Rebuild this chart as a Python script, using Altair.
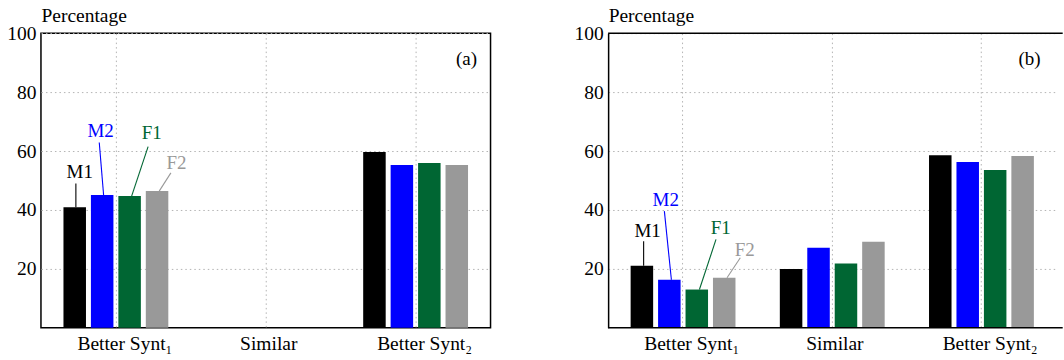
import altair as alt
import pandas as pd

FONT = "Liberation Serif"

categories = ["Better Synt\u2081", "Similar", "Better Synt\u2082"]
speakers = ["M1", "M2", "F1", "F2"]

# Panel (a) values, one list per speaker (Better Synt1, Similar, Better Synt2)
a_m1 = [40.9, 0.0, 59.7]
a_m2 = [45.1, 0.0, 55.3]
a_f1 = [44.7, 0.0, 55.9]
a_f2 = [46.4, 0.0, 55.3]

# Panel (b) values
b_m1 = [21.1, 20.0, 58.6]
b_m2 = [16.3, 27.2, 56.3]
b_f1 = [13.0, 21.8, 53.6]
b_f2 = [17.0, 29.2, 58.3]

colors_a = ["#000000", "#0000ff", "#006633", "#999999"]
colors_b = ["#1f0000", "#0000ff", "#006633", "#999999"]

# Speaker-label annotations (x in category units 0..3, y in percent)
a_text_x = [0.259, 0.398, 0.739, 0.905]
a_text_y = [50.7, 64.6, 64.0, 53.8]
a_lead_top_x = [0.233, 0.389, 0.715, 0.867]
a_lead_top_y = [49.0, 62.9, 61.5, 52.6]
a_lead_bot_x = [0.233, 0.418, 0.605, 0.789]

b_text_x = [0.265, 0.386, 0.755, 0.916]
b_text_y = [30.8, 41.3, 31.9, 24.4]
b_lead_top_x = [0.238, 0.377, 0.723, 0.886]
b_lead_top_y = [29.4, 39.6, 30.0, 23.8]
b_lead_bot_x = [0.238, 0.424, 0.612, 0.797]

tags = ["(a)", "(b)"]
tag_x = [2.84, 2.825]
tag_y = [89.2, 89.2]

y_ticks = [20, 40, 60, 80, 100]
GRID = "#b4b4b4"


def panel(values, colors, text_x, text_y, top_x, top_y, bot_x, tag, tx, ty,
          plot_w, view_w, framed):
    rows = []
    for s, vals in zip(speakers, values):
        for c, v in zip(categories, vals):
            rows.append({"cat": c, "spk": s, "val": v})
    df = pd.DataFrame(rows)

    first_vals = [vals[0] for vals in values]
    ann = pd.DataFrame({
        "spk": speakers, "tx": text_x, "ty": text_y,
        "lx": top_x, "ly": top_y, "bx": bot_x, "by": first_vals,
    })
    tag_df = pd.DataFrame({"t": [tag], "x": [tx], "y": [ty]})

    yscale = alt.Scale(domain=[0, 100], nice=False)
    cscale = alt.Scale(domain=speakers, range=colors)
    qx = alt.Scale(domain=[0, 3], range=[0, plot_w], nice=False, zero=False)

    yaxis = alt.Axis(
        values=y_ticks, title="Percentage", titleAngle=0, titleAlign="left",
        titleX=0, titleY=-12, titleBaseline="alphabetic", titleFont=FONT,
        titleFontSize=19.5, titleFontWeight="normal", titleColor="black",
        labelFont=FONT, labelFontSize=19.5, labelColor="black", labelPadding=5,
        ticks=False, tickSize=0, domain=not framed, domainColor="black",
        domainWidth=1.5, grid=True, gridColor=GRID, gridDash=[1.5, 3],
        gridWidth=1,
    )
    xaxis = alt.Axis(
        title=None, labelFont=FONT, labelFontSize=19.5, labelColor="black",
        labelPadding=7, labelAngle=0, ticks=False, tickSize=0, domain=False,
        grid=True, gridColor=GRID, gridDash=[1.5, 3], gridWidth=1,
        bandPosition=0.5,
        labelOffset={"condition": {"test": "datum.value === 'Similar'", "value": 3}, "value": 9},
    )

    bars = alt.Chart(df).mark_bar().encode(
        x=alt.X("cat:N", sort=categories,
                scale=alt.Scale(range=[0, plot_w], paddingInner=0, paddingOuter=0),
                axis=xaxis),
        xOffset=alt.XOffset("spk:N", sort=speakers,
                            scale=alt.Scale(paddingInner=0.18, paddingOuter=0.82)),
        y=alt.Y("val:Q", scale=yscale, axis=yaxis),
        color=alt.Color("spk:N", scale=cscale, legend=None),
    )

    leads = alt.Chart(ann).mark_rule(strokeWidth=1.1).encode(
        x=alt.X("lx:Q", scale=qx, axis=None),
        x2="bx:Q",
        y=alt.Y("ly:Q", scale=yscale, axis=yaxis),
        y2="by:Q",
        color=alt.Color("spk:N", scale=cscale, legend=None),
    )

    texts = alt.Chart(ann).mark_text(
        font=FONT, fontSize=19, baseline="alphabetic", align="center"
    ).encode(
        x=alt.X("tx:Q", scale=qx, axis=None),
        y=alt.Y("ty:Q", scale=yscale, axis=yaxis),
        text="spk:N",
        color=alt.Color("spk:N", scale=cscale, legend=None),
    )

    tag_layer = alt.Chart(tag_df).mark_text(
        font=FONT, fontSize=19, baseline="alphabetic", align="center", color="black"
    ).encode(
        x=alt.X("x:Q", scale=qx, axis=None),
        y=alt.Y("y:Q", scale=yscale, axis=yaxis),
        text="t:N",
    )

    layers = [bars, leads, texts, tag_layer]
    if not framed:
        frame = pd.DataFrame({"v": [0, 100]})
        frame_rules = alt.Chart(frame).mark_rule(color="black", strokeWidth=1.5).encode(
            y=alt.Y("v:Q", scale=yscale, axis=yaxis)
        )
        layers.append(frame_rules)

    ch = alt.layer(*layers).resolve_scale(x="independent").properties(
        width=view_w, height=295
    )
    if framed:
        ch = ch.properties(view=alt.ViewBackground(stroke="black", strokeWidth=1.5))
    else:
        ch = ch.properties(view=alt.ViewBackground(stroke="transparent"))
    return ch


panel_a = panel([a_m1, a_m2, a_f1, a_f2], colors_a, a_text_x, a_text_y,
                a_lead_top_x, a_lead_top_y, a_lead_bot_x, tags[0], tag_x[0], tag_y[0],
                450, 450, True)
panel_b = panel([b_m1, b_m2, b_f1, b_f2], colors_b, b_text_x, b_text_y,
                b_lead_top_x, b_lead_top_y, b_lead_bot_x, tags[1], tag_x[1], tag_y[1],
                448, 455, False)

chart = alt.hconcat(panel_a, panel_b, spacing=117.7, bounds="flush").properties(
    padding={"left": 6, "top": 4, "right": 0, "bottom": 0},
    background="white",
)

chart.save("out.html", embed_options={"renderer": "svg", "actions": False})
